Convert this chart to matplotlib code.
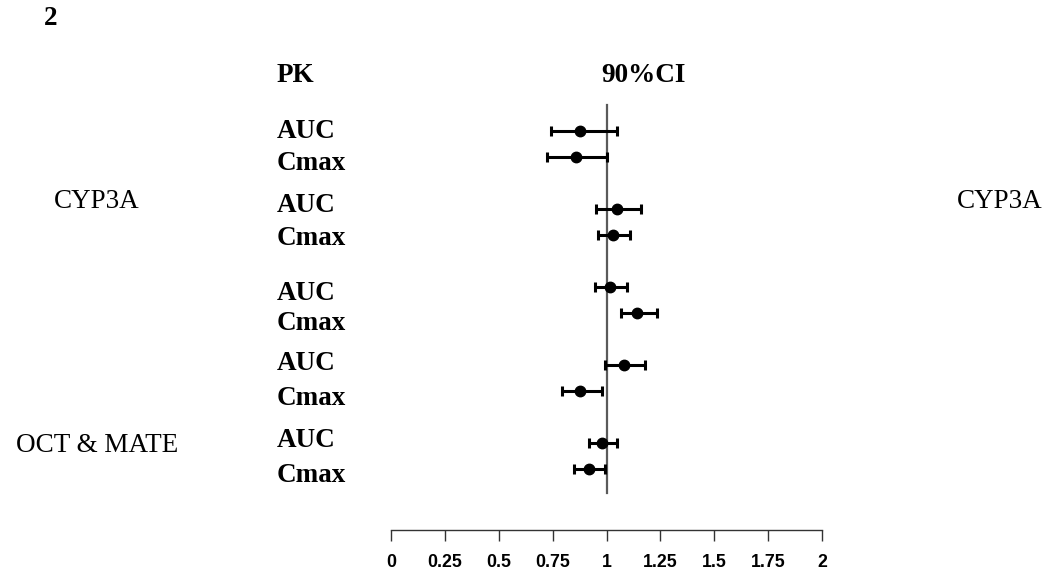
import matplotlib.pyplot as plt

# ratio estimates with 90% CI
groups = ['CYP3A', '', '', '', 'OCT & MATE']
right_groups = ['CYP3A', '', '', '', '']
params = ['AUC', 'Cmax']
ratio = [0.879, 0.857, 1.050, 1.030, 1.014, 1.143, 1.081, 0.879, 0.980, 0.918]
ci_low = [0.743, 0.724, 0.952, 0.960, 0.946, 1.069, 0.993, 0.794, 0.921, 0.851]
ci_high = [1.050, 1.003, 1.158, 1.107, 1.096, 1.236, 1.179, 0.980, 1.047, 0.995]
xticks = [0, 0.25, 0.5, 0.75, 1, 1.25, 1.5, 1.75, 2]
xticklabels = ['0', '0.25', '0.5', '0.75', '1', '1.25', '1.5', '1.75', '2']

W, H = 1049, 584
fig = plt.figure(figsize=(W / 100, H / 100), dpi=100)

# row positions: pairs of rows with a blank row between groups
pos = [g * 3 + k for g in range(len(groups)) for k in range(len(params))]

# axes: x 0..2 between px 391 and 822, y from px 100 (top) to 530 (bottom axis)
row0, step = 131, 26
top_px, bot_px = 100, 530
ax = fig.add_axes([391 / W, 1 - bot_px / H, (822 - 391) / W, (bot_px - top_px) / H])
ax.set_xlim(0, 2)
ax.set_ylim((bot_px - row0) / step, (top_px - row0) / step)

err = [[r - lo for r, lo in zip(ratio, ci_low)], [hi - r for r, hi in zip(ratio, ci_high)]]
ax.errorbar(ratio, pos, xerr=err, fmt='o', color='black', ms=7.5, elinewidth=2.2,
            capsize=3.5, capthick=2.2, zorder=3)
ax.axvline(1, ymin=(bot_px - 493) / (bot_px - top_px), ymax=(bot_px - 105) / (bot_px - top_px),
           color='#5a5a5a', lw=1.6, zorder=2)

for s in ['top', 'left', 'right']:
    ax.spines[s].set_visible(False)
ax.spines['bottom'].set_color('#333333')
ax.spines['bottom'].set_linewidth(1.0)
ax.set_yticks([])
ax.set_xticks(xticks)
ax.set_xticklabels(xticklabels, fontfamily='Liberation Sans', fontweight='bold', fontsize=12.8)
ax.tick_params(axis='x', direction='out', length=8, width=1.0, color='#333333', pad=9)


def ftext(x, y, s, **kw):
    # place text by pixel position (y measured from top, baseline)
    fig.text(x / W, 1 - y / H, s, va='baseline', fontfamily='Liberation Serif', fontsize=19.5, **kw)


ftext(44, 25, '2', fontweight='bold')
ftext(277, 82, 'PK', fontweight='bold')
ftext(643, 82, '90%CI', fontweight='bold', ha='center')

label_base = [138, 170, 212, 245, 300, 330, 370, 405, 447, 482]
for i, yb in enumerate(label_base):
    ftext(277, yb, params[i % 2], fontweight='bold')

group_base = [208, 0, 0, 0, 452]
for g, name in enumerate(groups):
    if name:
        ftext(97, group_base[g], name, ha='center')
for g, name in enumerate(right_groups):
    if name:
        ftext(1000, group_base[g], name, ha='center')

fig.savefig('out.png', dpi=100)
